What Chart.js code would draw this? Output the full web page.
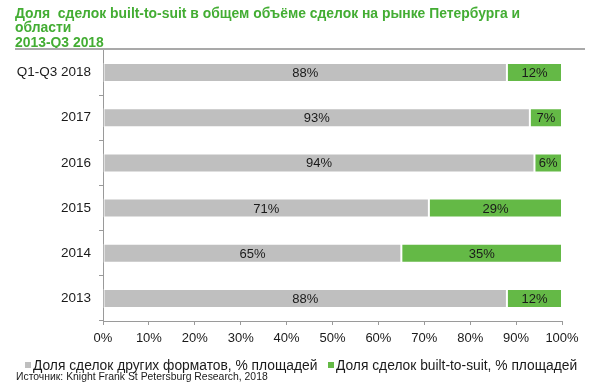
<!DOCTYPE html>
<html>
<head>
<meta charset="utf-8">
<script src="https://cdn.jsdelivr.net/npm/chart.js@4/dist/chart.umd.min.js"></script>
<style>
  html, body { margin: 0; padding: 0; background: #fff; }
  #wrap { position: relative; width: 600px; height: 389px; overflow: hidden; font-family: "Liberation Sans", Arial, sans-serif; }
  #c { position: absolute; left: 0; top: 0; }
  .title { position: absolute; left: 15px; color: #43ad33; font-weight: bold; font-size: 13.9px; line-height: 14px; white-space: nowrap; }
  #sep { position: absolute; left: 15px; top: 48px; width: 570px; height: 0; border-top: 2px solid #a9a9a9; }
  #legend { position: absolute; left: 0; top: 358px; width: 600px; font-size: 13.8px; line-height: 16px; color: #1a1a1a; white-space: nowrap; }
  .li { position: absolute; top: 0; }
  .sw { display: inline-block; width: 6px; height: 6px; margin-right: 2px; vertical-align: 2px; }
  #src { position: absolute; left: 16px; top: 371px; font-size: 10.4px; line-height: 12px; color: #1a1a1a; white-space: nowrap; }
</style>
</head>
<body>
<div id="wrap">
  <canvas id="c" width="600" height="389"></canvas>
  <div class="title" style="top:6px">Доля&nbsp; сделок built-to-suit в общем объёме сделок на рынке Петербурга и</div>
  <div class="title" style="top:20px">области</div>
  <div class="title" style="top:35px">2013-Q3 2018</div>
  <div id="sep"></div>
  <div id="legend"></div>
  <div id="src">Источник: Knight Frank St Petersburg Research, 2018</div>
</div>
<script>
const categories = ["Q1-Q3 2018", "2017", "2016", "2015", "2014", "2013"];
const otherFormats = [88, 93, 94, 71, 65, 88];
const builtToSuit = [12, 7, 6, 29, 35, 12];
const seriesNames = ["Доля сделок других форматов, % площадей", "Доля сделок built-to-suit, % площадей"];
const xTicks = [0, 10, 20, 30, 40, 50, 60, 70, 80, 90, 100];
const colors = ["#bfbfbf", "#64b946"];

const FONT = '"Liberation Sans", Arial, sans-serif';

const labelPlugin = {
  id: 'segLabels',
  afterDatasetsDraw(chart) {
    const ctx = chart.ctx;
    ctx.save();
    ctx.font = '13px ' + FONT;
    ctx.fillStyle = '#1a1a1a';
    ctx.textAlign = 'center';
    ctx.textBaseline = 'middle';
    chart.data.datasets.forEach((ds, di) => {
      const meta = chart.getDatasetMeta(di);
      meta.data.forEach((el, i) => {
        const p = el.getProps(['x', 'y', 'base'], true);
        ctx.fillText(ds.data[i] + '%', (p.x + p.base) / 2, p.y + 1);
      });
    });
    ctx.restore();
  }
};

new Chart(document.getElementById('c'), {
  type: 'bar',
  data: {
    labels: categories,
    datasets: [
      { label: seriesNames[0], data: otherFormats, backgroundColor: colors[0], borderColor: '#ffffff', borderWidth: 1, borderSkipped: false },
      { label: seriesNames[1], data: builtToSuit, backgroundColor: colors[1], borderColor: '#ffffff', borderWidth: 1, borderSkipped: false }
    ]
  },
  options: {
    indexAxis: 'y',
    responsive: false,
    animation: false,
    devicePixelRatio: 1,
    layout: { padding: { top: 50, right: 38, bottom: 42, left: 0 } },
    datasets: { bar: { categoryPercentage: 1, barPercentage: 0.42 } },
    plugins: { legend: { display: false }, tooltip: { enabled: false } },
    scales: {
      x: {
        stacked: true, min: 0, max: 100,
        afterBuildTicks(scale) { scale.ticks = xTicks.map(v => ({ value: v })); },
        afterFit(scale) { scale.height = 26; },
        border: { display: true, color: '#9a9a9a', width: 1 },
        grid: { drawOnChartArea: false, drawTicks: true, tickLength: 4, color: '#9a9a9a' },
        ticks: { callback: v => v + '%', font: { size: 13, family: FONT }, color: '#1a1a1a', padding: 6, maxRotation: 0 }
      },
      y: {
        stacked: true,
        afterFit(scale) { scale.width = 103; },
        border: { display: true, color: '#9a9a9a', width: 1 },
        grid: { drawOnChartArea: false, drawTicks: true, tickLength: 4, color: '#9a9a9a', offset: true },
        ticks: { font: { size: 13.5, family: FONT }, color: '#1a1a1a', padding: 8 }
      }
    }
  },
  plugins: [labelPlugin]
});

// HTML legend built from the series names
const lg = document.getElementById('legend');
const lefts = [25, 328];
seriesNames.forEach((n, i) => {
  const d = document.createElement('span');
  d.className = 'li';
  d.style.left = lefts[i] + 'px';
  d.innerHTML = '<span class="sw" style="background:' + colors[i] + '"></span>' + n;
  lg.appendChild(d);
});
</script>
</body>
</html>
